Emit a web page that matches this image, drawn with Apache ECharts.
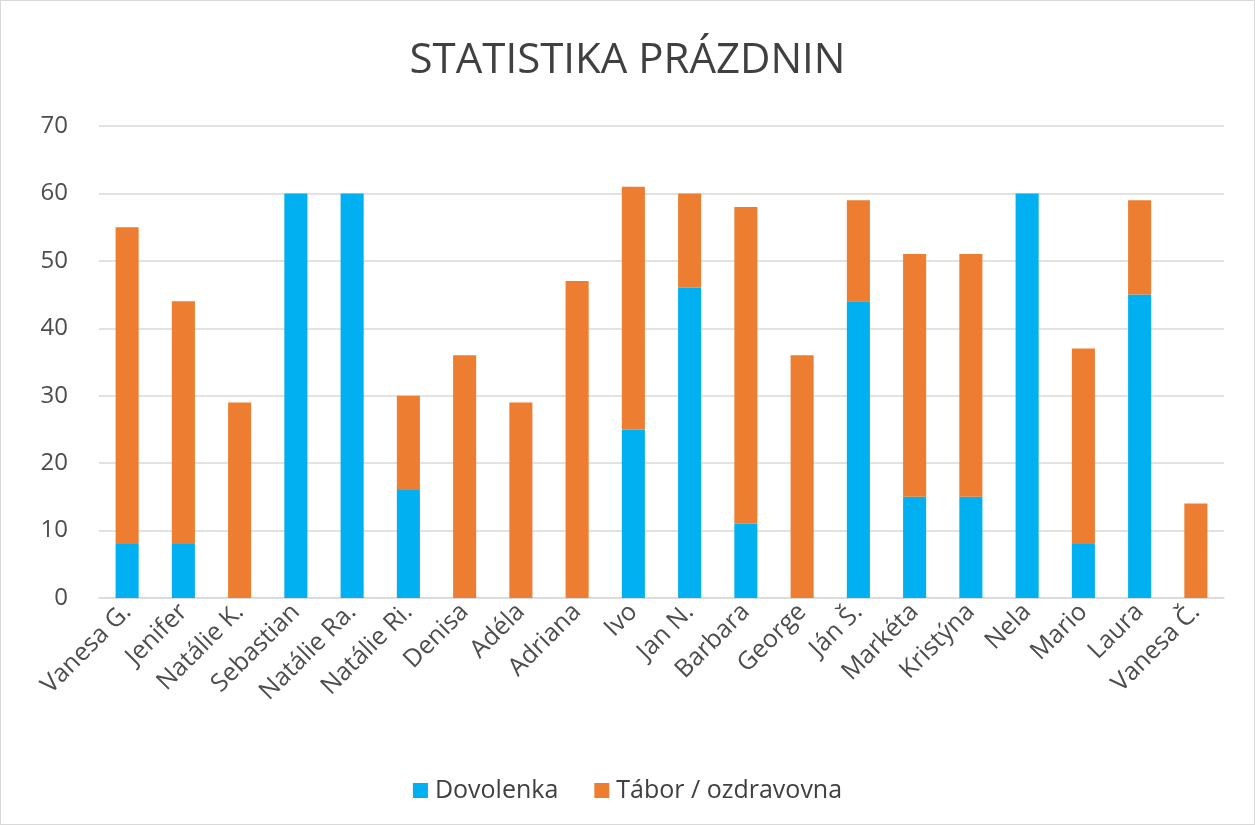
<!DOCTYPE html>
<html>
<head>
<meta charset="utf-8">
<script src="https://cdn.jsdelivr.net/npm/echarts@6/dist/echarts.min.js"></script>
<style>
html,body{margin:0;padding:0;background:#fff;}
#chart{width:1255px;height:825px;box-sizing:border-box;border:1px solid #d9d9d9;}
</style>
</head>
<body>
<div id="chart"></div>
<script>
var names = ['Vanesa G.','Jenifer','Natálie K.','Sebastian','Natálie Ra.','Natálie Ri.','Denisa','Adéla','Adriana','Ivo','Jan N.','Barbara','George','Ján Š.','Markéta','Kristýna','Nela','Mario','Laura','Vanesa Č.'];
var dovolenka = [8, 8, 0, 60, 60, 16, 0, 0, 0, 25, 46, 11, 0, 44, 15, 15, 60, 8, 45, 0];
var tabor = [47, 36, 29, 0, 0, 14, 36, 29, 47, 36, 14, 47, 36, 15, 36, 36, 0, 29, 14, 14];

var chart = echarts.init(document.getElementById('chart'));

var option = {
    textStyle: {fontFamily: '"Open Sans", sans-serif'},
    title: {
        text: 'STATISTIKA PRÁZDNIN',
        left: 'center',
        top: 34,
        textStyle: {fontSize: 42, fontWeight: 'normal', color: '#404040', fontFamily: '"Open Sans", sans-serif'}
    },
    legend: {
        bottom: 16,
        left: 'center',
        itemWidth: 15,
        itemHeight: 15,
        itemGap: 36,
        icon: 'rect',
        textStyle: {fontSize: 25, color: '#404040', padding: [0, 0, 0, 2]},
        data: ['Dovolenka', 'Tábor / ozdravovna']
    },
    grid: {left: 98, right: 30, top: 125, bottom: 226, containLabel: false},
    xAxis: {
        type: 'category',
        data: names,
        axisTick: {show: false},
        axisLine: {lineStyle: {color: '#d9d9d9', width: 1.5}},
        axisLabel: {rotate: 45, fontSize: 25, color: '#4d4d4d', margin: 10, interval: 0}
    },
    yAxis: {
        type: 'value',
        min: 0,
        max: 70,
        interval: 10,
        axisLine: {show: false},
        axisTick: {show: false},
        splitLine: {lineStyle: {color: '#d9d9d9', width: 1.5}},
        axisLabel: {fontSize: 24, color: '#4d4d4d', margin: 31}
    },
    series: [
        {
            name: 'Dovolenka',
            type: 'bar',
            stack: 'a',
            barWidth: '41%',
            itemStyle: {color: '#00B0F0'},
            data: dovolenka
        },
        {
            name: 'Tábor / ozdravovna',
            type: 'bar',
            stack: 'a',
            barWidth: '41%',
            itemStyle: {color: '#ED7D31'},
            data: tabor
        }
    ]
};

chart.setOption(option);
</script>
</body>
</html>
